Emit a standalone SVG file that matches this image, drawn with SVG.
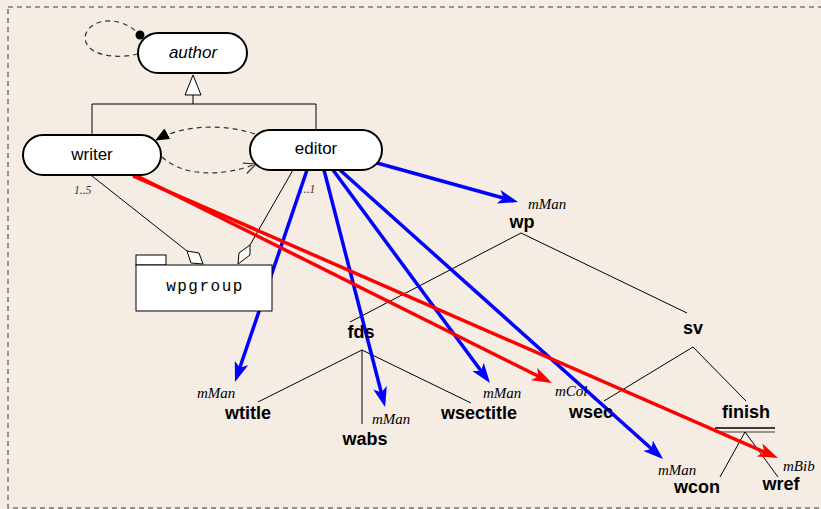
<svg xmlns="http://www.w3.org/2000/svg" width="821" height="509" viewBox="0 0 821 509">
  <style>
    .node { fill: #ffffff; stroke: #000000; stroke-width: 2; }
    .thin { fill: none; stroke: #000000; stroke-width: 1; }
    .dash { fill: none; stroke: #333333; stroke-width: 1.2; stroke-dasharray: 5 4; }
    .blue { fill: none; stroke: #0000ff; stroke-width: 3.5; marker-end: url(#ah-blue); }
    .red { fill: none; stroke: #ff0000; stroke-width: 3.5; marker-end: url(#ah-red); }
    .lbl { font-family: "Liberation Sans", Arial, sans-serif; font-size: 17px; fill: #000000; text-anchor: middle; }
    .tree { font-family: "Liberation Sans", Arial, sans-serif; font-size: 18px; font-weight: bold; fill: #000000; text-anchor: middle; }
    .role { font-family: "Liberation Serif", "Times New Roman", serif; font-size: 15px; font-style: italic; fill: #000000; }
    .mult { font-family: "Liberation Serif", "Times New Roman", serif; font-size: 11.5px; font-style: italic; fill: #333333; }
    .mono { font-family: "Liberation Mono", "Courier New", monospace; font-size: 16px; letter-spacing: 1.5px; fill: #000000; text-anchor: middle; }
  </style>
  <defs>
    <marker id="ah-blue" viewBox="0 0 20 14" refX="15" refY="7" markerWidth="20" markerHeight="14" orient="auto" markerUnits="userSpaceOnUse">
      <path d="M0,0 L20,7 L0,14 L5,7 z" fill="#0000ff"/>
    </marker>
    <marker id="ah-red" viewBox="0 0 20 14" refX="15" refY="7" markerWidth="20" markerHeight="14" orient="auto" markerUnits="userSpaceOnUse">
      <path d="M0,0 L20,7 L0,14 L5,7 z" fill="#ff0000"/>
    </marker>
    <marker id="ah-solid" viewBox="0 0 14 12" refX="13" refY="6" markerWidth="14" markerHeight="12" orient="auto" markerUnits="userSpaceOnUse">
      <path d="M0,0 L14,6 L0,12 z" fill="#000000"/>
    </marker>
    <marker id="ah-open" viewBox="0 0 14 12" refX="13" refY="6" markerWidth="14" markerHeight="12" orient="auto" markerUnits="userSpaceOnUse">
      <path d="M1,0.5 L13,6 L1,11.5" fill="none" stroke="#333333" stroke-width="1.2"/>
    </marker>
    <marker id="dot" viewBox="0 0 10 10" refX="5" refY="5" markerWidth="10" markerHeight="10" markerUnits="userSpaceOnUse">
      <circle cx="5" cy="5" r="4.5" fill="#000000"/>
    </marker>
  </defs>

  <!-- background and frame -->
  <rect x="0" y="0" width="821" height="509" fill="#f5ece4"/>
  <rect x="8" y="7" width="830" height="501" fill="none" stroke="#777777" stroke-width="1.5" stroke-dasharray="5 4"/>

  <!-- connectors -->
  <g id="connectors">
    <!-- author self loop -->
    <path class="dash" d="M138,54 C112,60 86,54 85,38 C86,20 118,12 140,35" marker-end="url(#dot)"/>
    <!-- generalization -->
    <polyline class="thin" points="92,135 92,104 316,104 316,130"/>
    <line class="thin" x1="193" y1="104" x2="193" y2="95"/>
    <polygon points="193,75 201,95 185,95" fill="#ffffff" stroke="#000000" stroke-width="1"/>
    <!-- writer / editor dependencies -->
    <path class="dash" d="M255,134 C225,124 185,124 156,140" marker-end="url(#ah-solid)"/>
    <path class="dash" d="M162,157 C185,178 225,176 256,164" marker-end="url(#ah-open)"/>
    <!-- aggregations to wpgroup -->
    <line class="thin" x1="92" y1="176" x2="187" y2="251"/>
    <polygon points="187,251 199,253 203,264 191,263" fill="#ffffff" stroke="#000000" stroke-width="1"/>
    <line class="thin" x1="293" y1="170" x2="250" y2="245"/>
    <polygon points="250,245 250,255 238,264 239,253" fill="#ffffff" stroke="#000000" stroke-width="1"/>
    <text class="mult" x="74" y="194">1..5</text>
    <text class="mult" x="298" y="193">1..1</text>
    <!-- tree edges -->
    <line class="thin" x1="521" y1="233" x2="350" y2="322"/>
    <line class="thin" x1="521" y1="233" x2="687" y2="313"/>
    <line class="thin" x1="362" y1="350" x2="258" y2="402"/>
    <line class="thin" x1="362" y1="350" x2="362" y2="424"/>
    <line class="thin" x1="362" y1="350" x2="471" y2="403"/>
    <line class="thin" x1="693" y1="347" x2="604" y2="401"/>
    <line class="thin" x1="693" y1="347" x2="746" y2="401"/>
    <line x1="715" y1="428" x2="775" y2="428" stroke="#000000" stroke-width="1.5"/>
    <line x1="715" y1="432" x2="775" y2="432" stroke="#777777" stroke-width="1.5"/>
    <line class="thin" x1="745" y1="432" x2="720" y2="477"/>
    <line class="thin" x1="745" y1="432" x2="778" y2="477"/>
    <!-- mappings -->
    <line class="blue" x1="377" y1="163" x2="513.2" y2="200.7"/>
    <line class="blue" x1="307" y1="170" x2="236.6" y2="377.3"/>
    <line class="blue" x1="324" y1="170" x2="383.8" y2="402.2"/>
    <line class="blue" x1="333" y1="170" x2="487.0" y2="379.0"/>
    <line class="blue" x1="340" y1="170" x2="659.3" y2="455.7"/>
    <line class="red" x1="137" y1="176" x2="547.5" y2="380.8"/>
    <line class="red" x1="133" y1="176" x2="773.4" y2="456.0"/>
  </g>

  <!-- class nodes -->
  <g id="author">
    <rect class="node" x="138" y="33" width="109" height="40" rx="20"/>
    <text class="lbl" x="193" y="58" font-style="italic">author</text>
  </g>
  <g id="writer">
    <rect class="node" x="23" y="135" width="138" height="40" rx="20"/>
    <text class="lbl" x="92" y="160">writer</text>
  </g>
  <g id="editor">
    <rect class="node" x="250" y="130" width="132" height="40" rx="20"/>
    <text class="lbl" x="316" y="154">editor</text>
  </g>
  <g id="wpgroup">
    <rect x="136" y="255" width="30" height="10" fill="#ffffff" stroke="#000000" stroke-width="1"/>
    <rect x="136" y="265" width="136" height="46" fill="#ffffff" stroke="#000000" stroke-width="1"/>
    <text class="mono" x="205" y="291">wpgroup</text>
  </g>

  <!-- document tree nodes -->
  <g id="wp">
    <text class="tree" x="522" y="228">wp</text>
    <text class="role" x="528" y="209">mMan</text>
  </g>
  <g id="fds">
    <text class="tree" x="361" y="338">fds</text>
  </g>
  <g id="sv">
    <text class="tree" x="693" y="334">sv</text>
  </g>
  <g id="wtitle">
    <text class="tree" x="248" y="419">wtitle</text>
    <text class="role" x="197" y="398">mMan</text>
  </g>
  <g id="wabs">
    <text class="tree" x="365" y="445">wabs</text>
    <text class="role" x="372" y="424">mMan</text>
  </g>
  <g id="wsectitle">
    <text class="tree" x="479" y="419">wsectitle</text>
    <text class="role" x="483" y="398">mMan</text>
  </g>
  <g id="wsec">
    <text class="tree" x="591" y="418">wsec</text>
    <text class="role" x="555" y="396">mCol</text>
  </g>
  <g id="finish">
    <text class="tree" x="746" y="418">finish</text>
  </g>
  <g id="wcon">
    <text class="tree" x="697" y="493">wcon</text>
    <text class="role" x="658" y="475">mMan</text>
  </g>
  <g id="wref">
    <text class="tree" x="781" y="490">wref</text>
    <text class="role" x="783" y="471">mBib</text>
  </g>
</svg>
